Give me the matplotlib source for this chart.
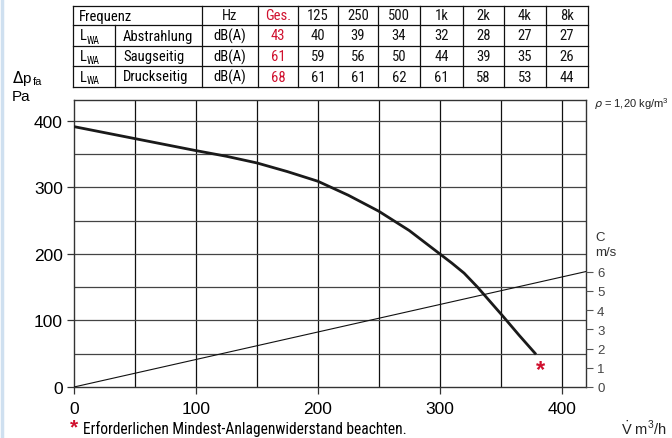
import matplotlib.pyplot as plt

# curve data
flow = [0, 50, 100, 125, 150, 175, 200, 225, 250, 275, 300, 310, 320, 331, 341, 352, 365, 379]
dp = [391, 373, 355, 346.5, 336.5, 323.5, 309, 288, 264, 235, 200, 186, 171, 150, 129, 106, 78, 49]
vel_flow = [0, 420]
vel_c = [0, 6]
star_flow, star_dp = 383, 27

# sound table
freqs = ['Hz', 'Ges.', '125', '250', '500', '1k', '2k', '4k', '8k']
row_names = ['Abstrahlung', 'Saugseitig', 'Druckseitig']
abstrahlung = [43, 40, 39, 34, 32, 28, 27, 27]
saugseitig = [61, 59, 56, 50, 44, 39, 35, 26]
druckseitig = [68, 61, 61, 62, 61, 58, 53, 44]

plt.rcParams['font.family'] = ['Liberation Sans', 'DejaVu Sans']
cond = ['Roboto Condensed', 'DejaVu Sans']

red = '#d0102e'
fig = plt.figure(figsize=(6.72, 4.39), dpi=100)
ax = fig.add_axes([74 / 672, 1 - 388 / 439, 512 / 672, 287 / 439])
ax.set_xlim(0, 420)
ax.set_ylim(0, 431)
for v in range(50, 420, 50):
    ax.axvline(v, color='#111', lw=0.9, zorder=1)
for v in range(50, 431, 50):
    ax.axhline(v, color='#444', lw=0.9, zorder=1)
ax.plot(flow, dp, color='#1a1a1a', lw=2, zorder=3, solid_capstyle='butt')
ax.set_xticks([0, 100, 200, 300, 400])
ax.set_yticks([0, 100, 200, 300, 400])
ax.tick_params(labelsize=12.5, length=5, width=0.9, color='#333', pad=3)
ax.tick_params(axis='x', pad=5)
for s in ax.spines.values():
    s.set_linewidth(1)
    s.set_color('#333')
ax.text(star_flow, star_dp, '*', color=red, fontsize=17, fontweight='bold',
        ha='center', va='center', zorder=4)

ax2 = ax.twinx()
ax2.set_ylim(0, 431 / (173.4 / 6))
ax2.plot(vel_flow, vel_c, color='#111', lw=0.8, zorder=2)
ax2.set_yticks(range(0, 7))
ax2.tick_params(labelsize=9.5, length=5, width=0.8, color='#555', labelcolor='#444', pad=3)
for s in ax2.spines.values():
    s.set_visible(False)

# overlay in pixel coordinates for table and labels
ov = fig.add_axes([0, 0, 1, 1], zorder=-1)
ov.set_xlim(0, 672)
ov.set_ylim(439, 0)
ov.axis('off')
ov.axvline(1.5, color='#cfe0f0', lw=2.5)

cols = [73, 202, 258, 298, 338, 378, 420, 463, 504, 546, 588]
rows = [7, 26, 47, 67, 88]
for y in rows:
    ov.plot([cols[0], cols[-1]], [y, y], color='#111', lw=0.9)
for x in cols:
    ov.plot([x, x], [rows[0], rows[-1]], color='#111', lw=0.9)
ov.plot([115, 115], [rows[1], rows[-1]], color='#111', lw=0.9)

tkw = dict(fontsize=10.5, family=cond, va='center')
ov.text(79, 16.5, 'Frequenz', ha='left', **tkw)
for i, f in enumerate(freqs):
    ov.text((cols[i + 1] + cols[i + 2]) / 2, 16.5, f, ha='center',
            color=red if f == 'Ges.' else '#111', **tkw)
for r, (name, vals) in enumerate(zip(row_names, [abstrahlung, saugseitig, druckseitig])):
    yc = (rows[r + 1] + rows[r + 2]) / 2
    ov.text(80, yc, 'L', ha='left', **tkw)
    ov.text(87, yc + 4, 'WA', ha='left', fontsize=7, family=cond, va='center')
    ov.text(123, yc, name, ha='left', **tkw)
    ov.text((cols[1] + cols[2]) / 2, yc, 'dB(A)', ha='center', **tkw)
    for i, v in enumerate(vals):
        ov.text((cols[i + 2] + cols[i + 3]) / 2, yc, str(v), ha='center',
                color=red if i == 0 else '#111', **tkw)

ov.text(12, 78, r'$\Delta$p', fontsize=11, ha='left', va='center')
ov.text(33, 82, 'fa', fontsize=8, ha='left', va='center')
ov.text(12, 97, 'Pa', fontsize=11, ha='left', va='center')
ov.text(594, 104, r'$\rho$ = 1,20 kg/m$^{\mathregular{3}}$', fontsize=8, ha='left', va='center', color='#222')
ov.text(595, 238, 'C', fontsize=9.5, ha='left', va='center', color='#333')
ov.text(595, 253, 'm/s', fontsize=9.5, ha='left', va='center', color='#333')
ov.text(621, 429, r'$\dot{\mathregular{V}}$ m$^{\mathregular{3}}$/h', fontsize=10.5, ha='left', va='center', color='#222')
ov.text(70, 428, '*', color=red, fontsize=15, fontweight='bold', ha='left', va='center')
ov.text(83, 429, 'Erforderlichen Mindest-Anlagenwiderstand beachten.', ha='left',
        fontsize=11.2, family=cond, va='center')

fig.savefig('out.png', dpi=100)
